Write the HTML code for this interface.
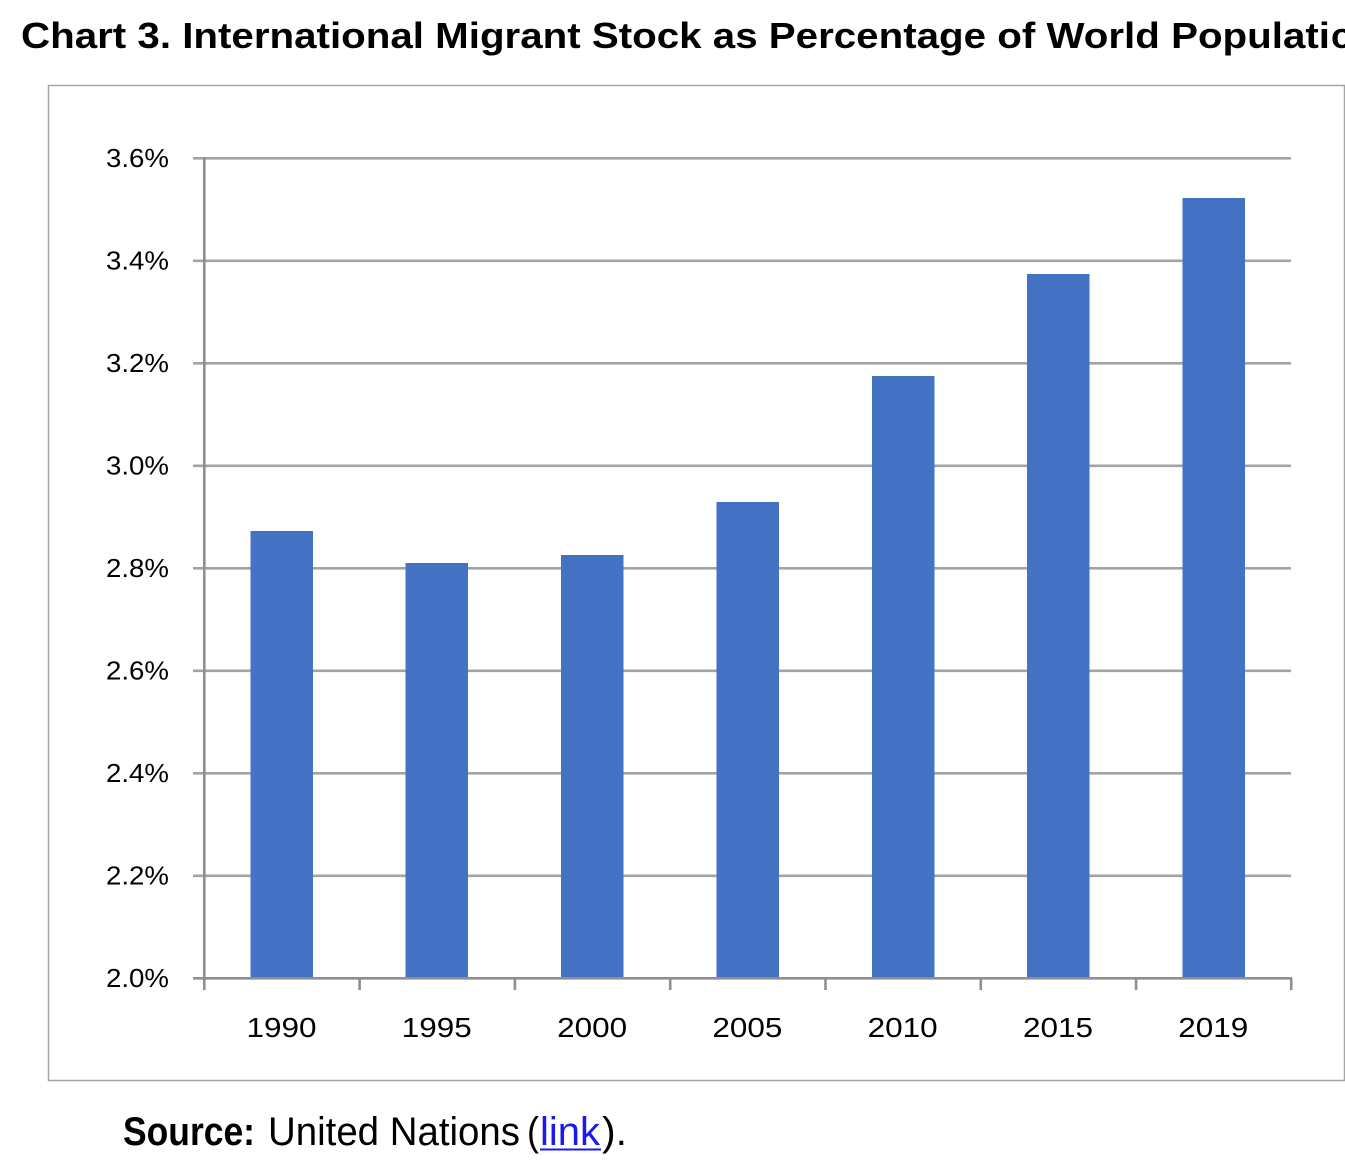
<!DOCTYPE html>
<html>
<head>
<meta charset="utf-8">
<style>
  html, body { margin: 0; padding: 0; background: #ffffff; }
  body { width: 1345px; height: 1173px; overflow: hidden; }
  svg { display: block; }
  text { font-family: "Liberation Sans", "DejaVu Sans", sans-serif; fill: #000; }
</style>
</head>
<body>
<svg width="1345" height="1173" viewBox="0 0 1345 1173" xmlns="http://www.w3.org/2000/svg">
  <rect x="0" y="0" width="1345" height="1173" fill="#ffffff"/>

  <!-- Title -->
  <text x="21" y="48" font-size="36" font-weight="bold" textLength="1309" lengthAdjust="spacingAndGlyphs">Chart 3. International Migrant Stock as Percentage of World Populati</text>
  <text x="1331" y="48" font-size="36" font-weight="bold">on</text>

  <!-- Chart border -->
  <rect x="48.5" y="85.5" width="1296" height="995" fill="#ffffff" stroke="#a6a6a6" stroke-width="1.5"/>

  <!-- Gridlines -->
  <g stroke="#a3a3a3" stroke-width="2.6">
    <line x1="193" y1="158.3" x2="1291" y2="158.3"/>
    <line x1="193" y1="260.8" x2="1291" y2="260.8"/>
    <line x1="193" y1="363.3" x2="1291" y2="363.3"/>
    <line x1="193" y1="465.8" x2="1291" y2="465.8"/>
    <line x1="193" y1="568.3" x2="1291" y2="568.3"/>
    <line x1="193" y1="670.8" x2="1291" y2="670.8"/>
    <line x1="193" y1="773.3" x2="1291" y2="773.3"/>
    <line x1="193" y1="875.8" x2="1291" y2="875.8"/>
  </g>

  <!-- Bars -->
  <g fill="#4472c4">
    <rect x="250.5" y="531" width="62.5" height="447"/>
    <rect x="405.5" y="563" width="62.5" height="415"/>
    <rect x="561" y="555" width="62.5" height="423"/>
    <rect x="716.5" y="502" width="62.5" height="476"/>
    <rect x="872" y="376" width="62.5" height="602"/>
    <rect x="1027" y="274" width="62.5" height="704"/>
    <rect x="1182.5" y="198" width="62.5" height="780"/>
  </g>

  <!-- Axes -->
  <g stroke="#8f8f8f" stroke-width="2.6">
    <line x1="204.3" y1="157" x2="204.3" y2="990"/>
    <line x1="193" y1="978.3" x2="1292" y2="978.3"/>
    <line x1="359.6" y1="978" x2="359.6" y2="990"/>
    <line x1="514.9" y1="978" x2="514.9" y2="990"/>
    <line x1="670.2" y1="978" x2="670.2" y2="990"/>
    <line x1="825.5" y1="978" x2="825.5" y2="990"/>
    <line x1="980.8" y1="978" x2="980.8" y2="990"/>
    <line x1="1136.1" y1="978" x2="1136.1" y2="990"/>
    <line x1="1291.2" y1="978" x2="1291.2" y2="990"/>
  </g>

  <!-- Y labels -->
  <g font-size="26">
    <text x="106" y="167" textLength="63" lengthAdjust="spacingAndGlyphs">3.6%</text>
    <text x="106" y="269.5" textLength="63" lengthAdjust="spacingAndGlyphs">3.4%</text>
    <text x="106" y="372" textLength="63" lengthAdjust="spacingAndGlyphs">3.2%</text>
    <text x="106" y="474.5" textLength="63" lengthAdjust="spacingAndGlyphs">3.0%</text>
    <text x="106" y="577" textLength="63" lengthAdjust="spacingAndGlyphs">2.8%</text>
    <text x="106" y="679.5" textLength="63" lengthAdjust="spacingAndGlyphs">2.6%</text>
    <text x="106" y="782" textLength="63" lengthAdjust="spacingAndGlyphs">2.4%</text>
    <text x="106" y="884.5" textLength="63" lengthAdjust="spacingAndGlyphs">2.2%</text>
    <text x="106" y="987" textLength="63" lengthAdjust="spacingAndGlyphs">2.0%</text>
  </g>

  <!-- X labels -->
  <g font-size="28">
    <text x="246.5" y="1037" textLength="70" lengthAdjust="spacingAndGlyphs">1990</text>
    <text x="401.8" y="1037" textLength="70" lengthAdjust="spacingAndGlyphs">1995</text>
    <text x="557.1" y="1037" textLength="70" lengthAdjust="spacingAndGlyphs">2000</text>
    <text x="712.4" y="1037" textLength="70" lengthAdjust="spacingAndGlyphs">2005</text>
    <text x="867.7" y="1037" textLength="70" lengthAdjust="spacingAndGlyphs">2010</text>
    <text x="1023" y="1037" textLength="70" lengthAdjust="spacingAndGlyphs">2015</text>
    <text x="1178.3" y="1037" textLength="70" lengthAdjust="spacingAndGlyphs">2019</text>
  </g>

  <!-- Source -->
  <text x="123" y="1145" font-size="40" font-weight="bold" textLength="132" lengthAdjust="spacingAndGlyphs">Source:</text>
  <text x="268" y="1145" font-size="40" textLength="252" lengthAdjust="spacingAndGlyphs">United Nations</text>
  <text x="527" y="1145" font-size="40" textLength="12" lengthAdjust="spacingAndGlyphs">(</text>
  <text x="540" y="1145" font-size="40" fill="#1a1aee" style="fill:#1a1aee" textLength="60" lengthAdjust="spacingAndGlyphs">link</text>
  <line x1="540" y1="1149.5" x2="601" y2="1149.5" stroke="#1a1aee" stroke-width="2"/>
  <text x="602" y="1145" font-size="40" textLength="25" lengthAdjust="spacingAndGlyphs">).</text>
</svg>
</body>
</html>
